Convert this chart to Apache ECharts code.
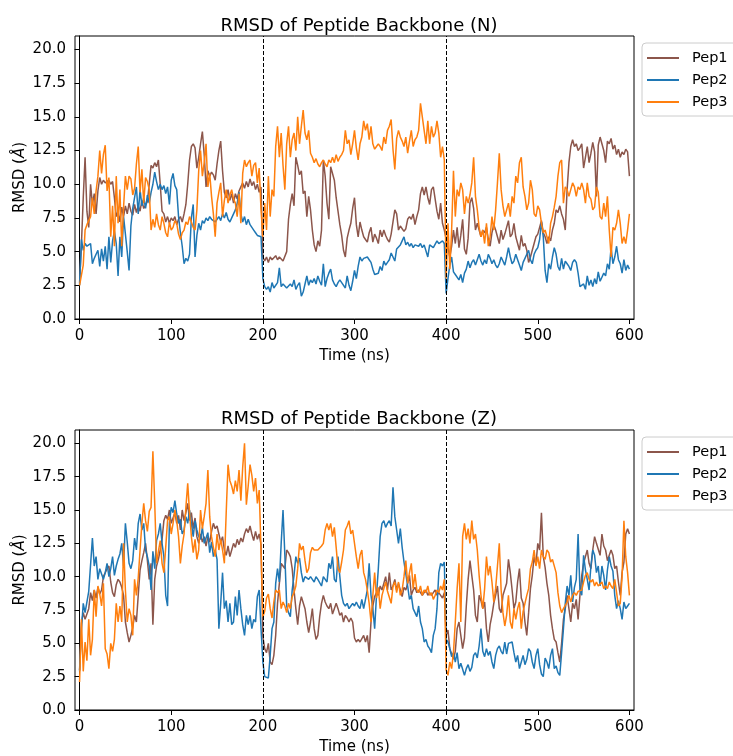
<!DOCTYPE html>
<html>
<head>
<meta charset="utf-8">
<script src="https://cdn.jsdelivr.net/npm/echarts@6/dist/echarts.min.js"></script>
<style>
  html, body { margin: 0; padding: 0; background: #fff; }
  #rmsdChart { width: 733px; height: 756px; }
</style>
</head>
<body>
<div id="rmsdChart"></div>
<script>
// time step between frames (ns)
var timeStep = 2;
var seriesNames = ['Pep1', 'Pep2', 'Pep3'];
var xTicks = [0, 100, 200, 300, 400, 500, 600];
var yTicks = [0, 2.5, 5, 7.5, 10, 12.5, 15, 17.5, 20];
var splitTimes = [200, 400];

// RMSD (N)
var nPep1 = [
2.7,5.5,9.0,12.0,8.0,6.8,10.0,8.5,9.3,7.8,
9.5,10.5,10.0,10.3,10.1,10.2,10.3,10.0,10.2,9.0,
7.6,8.0,7.2,8.3,7.6,8.4,7.8,8.6,8.0,7.7,
8.5,7.9,8.4,8.0,8.8,8.2,8.1,8.7,10.0,11.4,
11.2,11.6,11.3,11.8,10.0,8.0,7.8,7.2,7.6,7.1,
7.5,7.3,7.6,7.0,7.4,7.6,7.2,7.8,8.5,10.0,
11.8,12.8,13.0,12.7,11.2,12.0,13.0,13.9,12.2,9.8,
11.0,10.6,10.9,10.7,10.3,11.5,12.5,13.2,11.0,9.4,
9.0,9.6,8.8,9.3,8.6,9.3,8.9,9.5,9.8,10.1,
9.7,10.2,9.8,10.4,9.9,10.2,9.6,10.0,9.4,9.8,
4.6,4.3,4.6,4.2,4.6,4.4,4.5,4.7,4.4,4.6,
4.5,4.3,4.2,5.0,7.4,8.5,9.3,8.4,12.0,11.4,
10.7,11.0,9.3,9.5,7.6,9.1,8.1,6.6,5.5,5.0,
5.8,5.4,6.6,11.8,10.6,8.6,7.4,11.3,10.8,10.3,
9.0,8.0,7.0,6.2,5.1,4.6,6.0,6.6,7.1,8.2,
9.0,7.0,6.1,7.2,6.6,6.1,5.9,5.7,6.4,6.8,
5.7,6.3,6.0,5.6,6.6,6.1,6.6,6.2,5.9,5.7,
6.3,7.2,8.1,7.8,6.6,6.9,7.0,6.5,6.7,7.4,
7.6,7.4,7.8,7.0,7.6,8.1,9.3,9.8,9.2,9.8,
9.0,8.5,9.6,9.8,9.7,8.0,7.4,8.6,7.1,6.6,
6.6,5.3,4.6,5.4,6.6,5.6,6.8,5.3,6.2,7.4,
5.2,4.8,6.0,8.6,9.0,8.2,6.6,7.1,6.6,6.1,
6.6,6.4,6.8,5.9,5.4,6.4,7.0,6.6,6.1,5.6,
6.6,5.9,6.3,6.8,7.3,6.1,6.3,7.1,6.1,5.6,
5.1,6.2,5.4,5.6,5.1,4.2,4.6,5.1,5.6,6.1,
6.3,6.8,7.3,6.4,6.1,5.6,6.1,5.8,6.6,7.1,
8.1,7.9,8.4,7.8,7.4,6.6,9.6,11.6,12.8,13.3,
12.8,13.0,12.5,12.7,13.0,11.2,12.0,12.8,11.6,12.3,
13.1,12.4,9.1,12.9,13.5,13.0,12.5,11.6,13.2,13.0,
13.4,12.6,12.9,12.2,12.6,12.0,12.4,12.2,12.6,12.4,
10.6
];
var nPep2 = [
2.5,5.9,5.1,5.6,5.4,5.3,5.6,4.1,4.5,4.8,
5.1,3.9,5.2,4.3,5.4,3.7,6.1,4.2,5.8,6.5,
5.6,3.2,6.1,4.6,7.6,6.3,5.0,3.6,6.9,8.2,
9.0,9.8,7.8,9.6,8.4,9.0,8.2,9.2,8.6,9.4,
10.0,10.9,10.2,9.6,10.0,9.6,9.9,9.3,9.8,8.5,
10.3,10.8,9.9,9.6,7.6,6.4,5.4,4.1,4.5,4.3,
4.8,7.5,8.5,4.6,6.2,7.1,6.6,7.3,7.1,7.5,
7.3,7.6,7.4,7.5,7.2,7.4,7.6,7.3,7.8,7.5,
7.9,7.4,7.2,7.5,7.8,8.1,8.6,9.4,7.8,7.2,
7.6,7.0,7.4,7.0,6.8,6.6,6.4,6.2,6.3,6.1,
3.0,2.4,2.2,2.4,2.0,2.7,2.3,2.4,2.7,3.8,
2.4,2.6,2.7,2.3,2.4,2.6,2.4,2.9,2.2,2.5,
2.7,1.7,2.0,2.6,3.2,2.5,2.9,2.7,3.0,2.6,
3.2,2.8,2.5,4.1,2.4,3.0,3.4,3.7,2.9,2.6,
2.4,2.7,2.9,2.7,2.6,2.3,3.2,2.5,2.1,2.8,
3.6,3.0,3.9,4.6,4.3,4.5,4.4,4.6,4.4,4.2,
3.7,3.3,3.2,3.4,3.9,3.6,4.3,4.0,4.2,4.4,
4.9,4.6,4.3,5.2,5.3,5.5,5.8,6.1,5.5,5.7,
5.4,5.6,5.3,5.5,5.6,5.4,5.6,5.3,5.5,5.4,
4.6,5.5,5.6,5.3,5.4,5.8,5.6,5.5,5.8,5.6,
1.9,3.0,4.0,4.6,3.5,3.3,3.2,2.9,3.3,2.7,
3.4,3.7,4.3,3.8,4.2,4.4,4.0,4.4,4.8,4.3,
4.0,4.4,4.1,4.8,4.5,4.1,4.4,4.0,3.8,4.1,
4.6,4.3,4.0,4.6,5.3,4.6,4.1,4.3,4.8,4.4,
4.0,3.6,4.2,4.5,4.8,5.1,4.4,4.1,4.8,5.1,
5.3,5.9,7.2,6.1,3.6,2.7,4.1,3.7,4.6,5.3,
4.8,3.9,3.6,4.5,3.7,4.3,4.1,3.9,3.6,4.2,
4.4,4.2,3.4,2.4,2.3,2.6,2.2,3.2,2.5,2.9,
2.4,3.0,2.6,3.5,2.8,3.1,3.4,3.2,4.1,3.7,
5.3,4.1,4.6,5.4,4.4,4.1,3.4,4.4,3.6,4.0,
3.7
];
var nPep3 = [
2.5,2.4,4.0,6.6,7.0,7.1,7.6,9.0,7.8,9.5,
10.6,12.5,10.8,12.2,12.9,9.5,10.5,6.1,8.4,5.4,
10.6,7.1,9.6,5.4,8.3,10.6,9.6,10.6,10.4,9.2,
9.7,11.5,12.8,9.4,11.1,8.6,10.5,10.2,9.6,6.6,
7.4,6.8,7.8,7.0,6.6,7.6,7.1,6.4,6.1,7.2,
6.6,6.8,7.3,7.1,6.3,5.9,6.4,6.6,7.2,7.0,
7.6,7.2,6.8,6.6,8.1,11.0,12.5,10.6,11.6,13.0,
9.8,10.8,9.1,7.8,6.1,8.6,9.4,10.1,7.6,8.8,
9.6,8.6,9.2,9.6,8.9,8.6,7.6,9.3,7.1,10.8,
11.8,11.3,11.6,11.8,10.6,11.4,11.6,10.1,11.2,8.1,
6.1,8.6,6.6,10.6,7.6,9.6,9.1,12.8,14.3,12.0,
13.8,11.4,9.6,13.0,14.3,12.0,13.3,13.8,12.5,15.0,
13.0,14.3,15.5,13.8,13.3,14.0,12.3,12.0,11.6,11.9,
11.5,11.3,11.6,11.8,11.5,11.3,11.8,11.6,12.0,11.6,
12.2,11.7,12.0,12.2,12.5,14.0,13.0,13.3,12.2,13.0,
14.0,12.7,11.8,13.0,13.5,14.7,14.0,14.5,13.3,14.3,
13.0,12.6,12.8,13.0,12.8,12.5,13.5,13.0,14.0,14.3,
14.8,12.6,11.1,13.4,14.0,13.5,13.2,12.8,13.5,12.3,
13.2,14.0,12.8,13.3,13.5,14.0,16.0,15.0,14.0,13.0,
14.7,13.0,14.3,13.5,13.8,14.7,13.8,12.0,12.8,11.8,
3.0,7.1,3.7,6.6,11.0,7.6,9.6,9.1,10.1,9.6,
7.8,9.1,8.6,9.2,10.1,12.0,9.1,8.1,6.8,6.1,
6.6,5.6,7.1,5.4,6.1,7.6,6.6,8.1,10.1,12.3,
9.6,8.4,7.6,8.1,8.6,7.6,9.1,8.6,10.6,10.1,
11.6,12.0,9.8,9.1,8.1,8.6,10.3,9.6,7.8,7.6,
8.4,8.1,7.1,6.4,6.6,6.1,5.6,7.1,7.6,8.3,
9.1,10.6,11.6,11.8,8.6,9.8,9.6,9.1,9.6,10.1,
9.8,9.1,9.8,9.6,10.1,9.6,8.6,10.1,9.1,8.9,
8.1,8.3,9.8,9.4,7.6,7.4,8.6,7.6,9.1,6.6,
4.6,6.8,6.6,7.1,8.1,7.1,5.6,6.1,5.6,6.6,
7.8
];

// RMSD (Z)
var zPep1 = [
3.0,6.5,7.3,6.8,7.2,7.6,8.8,8.2,9.0,8.4,
9.2,8.7,9.0,10.0,10.3,10.6,10.8,9.6,8.8,8.5,
9.4,9.8,9.6,9.2,8.6,6.6,5.8,5.1,5.6,6.2,
7.1,6.6,8.6,10.5,11.2,11.8,12.5,11.2,9.8,11.0,
6.4,9.8,10.8,11.3,12.0,12.8,14.2,14.6,14.3,15.0,
14.0,14.4,14.8,14.0,14.6,13.5,15.0,14.2,14.8,15.5,
14.2,14.8,13.6,14.4,13.0,12.5,13.2,12.6,13.0,12.3,
13.0,12.6,13.4,14.0,13.6,13.8,13.2,12.6,13.0,12.0,
11.6,12.3,11.5,12.0,12.5,12.2,12.8,12.4,12.9,12.6,
13.2,13.6,13.3,13.8,13.2,12.7,13.4,12.8,13.2,12.4,
5.5,4.6,4.3,5.0,3.6,3.4,4.1,5.6,8.0,9.5,
11.0,10.8,10.6,12.0,11.8,11.5,10.6,9.0,7.6,6.4,
7.8,8.5,8.4,7.6,6.6,5.8,6.6,7.6,6.1,5.3,
5.6,7.0,8.0,8.6,8.1,7.8,7.6,8.0,7.2,7.6,
8.0,7.6,7.1,7.3,6.6,7.1,6.9,6.6,6.9,6.6,
5.4,5.1,5.3,5.1,5.0,5.6,5.1,5.6,4.3,6.6,
7.8,8.5,8.8,8.6,9.3,9.0,9.5,10.0,9.0,10.3,
9.0,9.3,9.8,9.0,9.5,9.0,8.5,9.2,9.0,9.5,
10.1,8.6,9.0,9.2,8.8,9.0,8.8,8.6,8.8,9.0,
8.6,8.8,8.6,8.8,9.0,8.6,8.8,8.6,8.4,8.8,
5.6,6.0,4.6,4.2,3.8,4.4,6.1,6.6,5.6,4.6,
5.4,7.8,9.8,11.2,10.1,9.0,7.1,6.6,8.6,8.2,
7.6,8.1,6.1,5.1,6.4,7.1,8.0,8.6,9.3,7.6,
7.3,8.6,8.6,9.5,11.3,10.3,9.0,7.6,8.1,9.6,
10.6,8.4,8.0,6.6,5.6,7.3,9.1,10.1,11.5,10.9,
12.5,12.0,14.8,11.5,10.7,9.5,8.6,7.1,6.1,5.3,
5.1,4.3,3.6,5.0,6.8,7.6,8.6,7.6,6.6,8.0,
7.6,8.3,6.8,8.6,10.1,11.0,11.5,12.0,11.0,10.6,
12.0,13.0,12.5,12.5,11.6,13.2,12.3,12.0,11.2,11.6,
12.0,11.6,10.6,10.8,9.6,8.6,10.3,11.1,13.2,13.6,
13.2
];
var zPep2 = [
2.9,6.0,8.0,7.3,7.4,8.9,9.0,12.9,10.8,11.5,
9.8,10.6,10.2,9.8,10.3,11.0,10.0,10.6,11.5,10.1,
10.8,11.3,11.7,12.5,10.8,14.0,12.6,11.0,10.6,11.2,
12.9,12.0,14.0,14.7,13.5,14.0,12.0,11.5,10.8,9.0,
11.9,10.6,12.7,13.2,14.0,12.5,11.5,8.6,7.8,14.0,
15.2,14.8,15.7,14.7,14.0,14.3,13.2,13.5,14.5,14.0,
15.0,14.0,13.0,14.2,13.5,13.0,12.8,13.7,12.5,12.9,
13.3,11.8,12.6,11.5,12.0,11.3,6.1,8.0,10.3,7.6,
8.2,6.6,8.0,6.4,6.6,8.5,7.1,9.0,7.6,6.4,
5.6,7.1,6.4,7.1,6.1,6.8,6.6,8.5,9.0,6.1,
3.6,2.5,2.6,2.4,4.1,6.1,6.6,9.5,10.6,9.6,
12.5,15.0,11.6,7.8,7.3,7.0,9.0,10.1,11.5,11.0,
11.4,10.3,9.6,10.0,10.0,9.8,10.0,9.8,9.6,10.0,
9.8,9.8,9.3,10.0,9.8,9.6,11.0,10.6,11.5,9.8,
9.6,11.5,10.0,8.6,8.0,7.8,8.0,7.6,7.8,8.0,
7.8,8.1,7.8,7.6,8.3,7.6,8.3,9.0,11.0,8.6,
7.6,6.1,8.6,10.6,13.0,14.0,14.2,13.7,14.0,14.2,
13.8,16.7,14.5,13.5,12.5,13.6,12.2,11.1,10.2,9.3,
8.3,8.6,7.6,7.6,7.0,7.8,6.6,6.1,5.1,5.3,
4.8,4.6,4.3,5.6,6.1,7.6,10.3,11.0,10.8,11.1,
5.3,5.1,4.6,4.0,4.3,3.6,4.3,3.1,3.5,3.4,
2.6,3.1,3.4,2.9,3.2,4.1,4.3,3.9,4.8,6.1,
4.4,4.0,4.6,4.1,4.4,3.6,3.1,4.1,4.6,4.8,
4.4,4.2,5.1,4.2,5.0,4.9,5.1,4.3,3.6,4.1,
3.1,3.6,4.1,3.4,3.8,4.6,4.4,3.6,3.1,4.1,
4.6,3.4,2.7,2.5,3.9,3.6,3.1,4.1,4.6,3.1,
3.3,2.8,2.6,4.3,6.1,8.0,9.3,8.6,10.1,8.1,
9.2,9.8,13.2,9.0,8.6,11.6,10.5,9.8,9.0,10.8,
12.0,11.6,10.3,10.8,9.3,10.8,10.1,9.0,10.5,11.5,
10.8,10.4,8.6,7.6,8.2,7.6,6.8,8.1,7.6,7.8,
8.0
];
var zPep3 = [
2.1,6.8,2.9,5.1,3.7,6.8,4.1,5.3,9.0,7.0,
9.3,8.7,7.8,9.5,4.6,4.2,3.1,5.0,4.4,5.3,
8.0,6.6,7.8,6.6,12.5,9.0,6.6,7.6,7.1,5.6,
9.8,8.6,9.9,12.0,14.0,15.5,14.2,13.4,14.9,15.2,
19.4,15.5,11.0,11.9,12.7,11.0,10.3,12.2,14.2,14.5,
13.2,14.0,15.0,14.2,13.0,11.0,12.3,13.2,15.2,17.0,
14.8,13.0,11.8,12.8,11.3,12.0,15.0,13.6,14.5,15.5,
18.0,14.5,13.0,12.2,11.5,13.2,12.0,12.8,12.0,11.0,
14.8,18.4,17.2,16.8,16.2,17.2,16.4,18.0,15.7,18.2,
20.0,15.4,16.8,18.4,17.6,16.4,17.4,15.5,16.5,12.0,
7.0,7.4,8.4,8.7,7.6,6.9,8.1,9.0,8.8,9.0,
7.6,8.1,7.8,7.3,8.0,7.6,8.5,8.8,9.3,10.6,
12.5,12.0,12.3,11.2,10.3,10.6,11.8,12.2,12.0,12.0,
12.0,12.0,12.3,12.5,13.5,14.0,13.5,14.0,13.0,13.7,
12.2,10.6,10.3,11.1,12.0,13.5,13.8,14.2,13.2,13.5,
13.5,11.5,10.6,11.6,12.0,10.3,9.8,9.0,8.0,6.6,
8.6,10.3,8.4,9.2,7.6,8.6,9.1,9.6,8.9,9.0,
8.0,9.3,9.6,8.8,9.6,8.6,9.0,10.0,11.2,9.5,
10.3,11.0,9.1,10.2,9.0,8.8,9.3,8.6,9.0,8.8,
9.3,8.6,8.8,8.3,8.6,9.0,8.8,9.3,9.0,9.8,
3.0,2.6,3.6,3.1,4.3,6.6,9.1,11.0,6.6,13.0,
14.0,12.8,13.6,12.5,14.2,12.8,13.2,12.0,10.1,8.6,
7.6,9.1,11.5,10.1,10.8,9.6,8.1,9.1,10.8,12.5,
9.0,7.3,6.3,7.1,8.6,6.6,6.1,7.6,6.8,7.6,
8.1,6.1,7.4,8.0,8.6,9.1,10.6,11.1,12.0,10.8,
11.5,10.6,12.0,11.5,11.3,12.0,11.8,11.1,11.3,11.4,
10.3,8.8,7.8,7.3,7.6,7.6,8.1,8.6,8.1,8.6,
8.8,8.6,8.9,9.0,9.0,9.6,10.1,10.3,9.8,9.6,
9.8,9.3,9.6,9.3,9.4,9.6,9.1,9.3,9.1,9.6,
9.3,9.1,9.8,8.8,7.8,8.0,10.0,14.2,11.5,10.3,
8.6
];

var colors = ['#8c564b', '#1f77b4', '#ff7f0e'];
var fontName = '"DejaVu Sans", sans-serif';

function toPairs(vals) {
    var out = [];
    for (var i = 0; i < vals.length; i++) {
        out.push([i * timeStep, vals[i]]);
    }
    return out;
}

function makeXAxis(idx) {
    return {
        type: 'value', gridIndex: idx, min: -5, max: 605,
        name: 'Time (ns)', nameLocation: 'middle', nameGap: 30, nameMoveOverlap: false,
        nameTextStyle: { fontSize: 15, color: '#000', fontFamily: fontName },
        axisLine: { show: true, onZero: false, lineStyle: { color: '#000', width: 1 } },
        axisTick: { show: true, length: 5, lineStyle: { color: '#000' }, customValues: xTicks },
        axisLabel: { margin: 10, fontSize: 15, color: '#000', fontFamily: fontName, customValues: xTicks },
        splitLine: { show: false }
    };
}

function makeYAxis(idx) {
    return {
        type: 'value', gridIndex: idx, min: 0, max: 21,
        name: 'RMSD ({a|Å})', nameLocation: 'middle', nameGap: 47, nameMoveOverlap: false,
        nameTextStyle: {
            fontSize: 15, color: '#000', fontFamily: fontName,
            rich: { a: { fontSize: 15, fontStyle: 'italic', color: '#000', fontFamily: fontName } }
        },
        axisLine: { show: true, lineStyle: { color: '#000', width: 1 } },
        axisTick: { show: true, length: 5, lineStyle: { color: '#000' }, customValues: yTicks },
        axisLabel: {
            margin: 9, fontSize: 15, color: '#000', fontFamily: fontName, customValues: yTicks,
            formatter: function (v) { return v.toFixed(1); }
        },
        splitLine: { show: false }
    };
}

function makeLegend(top) {
    return {
        orient: 'vertical', left: 642, top: top,
        data: seriesNames, icon: 'rect', itemWidth: 32, itemHeight: 2, itemGap: 6,
        padding: [7, 30, 6, 5],
        borderColor: '#cccccc', borderWidth: 1, borderRadius: 4, backgroundColor: '#fff',
        textStyle: { fontSize: 14.5, lineHeight: 16, color: '#000', fontFamily: fontName, padding: [0, 0, 0, 8] }
    };
}

var series = [];
var chartData = [[nPep1, nPep2, nPep3], [zPep1, zPep2, zPep3]];
for (var g = 0; g < 2; g++) {
    for (var s = 0; s < 3; s++) {
        var item = {
            name: seriesNames[s], type: 'line', xAxisIndex: g, yAxisIndex: g,
            data: toPairs(chartData[g][s]), showSymbol: false, symbol: 'none',
            color: colors[s], lineStyle: { width: 1.5, color: colors[s] }, z: 2 + s
        };
        if (s === 2) {
            // 分段虚线
            item.markLine = {
                silent: true, symbol: 'none', label: { show: false },
                lineStyle: { type: [4, 2], color: '#000', width: 1 },
                data: splitTimes.map(function (t) { return { xAxis: t }; })
            };
        }
        series.push(item);
    }
}

var myChart = echarts.init(document.getElementById('rmsdChart'), null, { renderer: 'canvas' });
var option = {
    animation: false,
    backgroundColor: '#fff',
    title: [
        { text: 'RMSD of Peptide Backbone (N)', left: 354, top: 12, textAlign: 'center',
          textStyle: { fontSize: 18, fontWeight: 'normal', color: '#000', fontFamily: fontName } },
        { text: 'RMSD of Peptide Backbone (Z)', left: 354, top: 405, textAlign: 'center',
          textStyle: { fontSize: 18, fontWeight: 'normal', color: '#000', fontFamily: fontName } }
    ],
    legend: [makeLegend(43), makeLegend(437)],
    grid: [
        { left: 75, right: 99, top: 36, height: 283, show: true, borderColor: '#000', borderWidth: 1 },
        { left: 75, right: 99, top: 430, height: 284, show: true, borderColor: '#000', borderWidth: 1 }
    ],
    xAxis: [makeXAxis(0), makeXAxis(1)],
    yAxis: [makeYAxis(0), makeYAxis(1)],
    series: series
};
myChart.setOption(option, true);
</script>
</body>
</html>
